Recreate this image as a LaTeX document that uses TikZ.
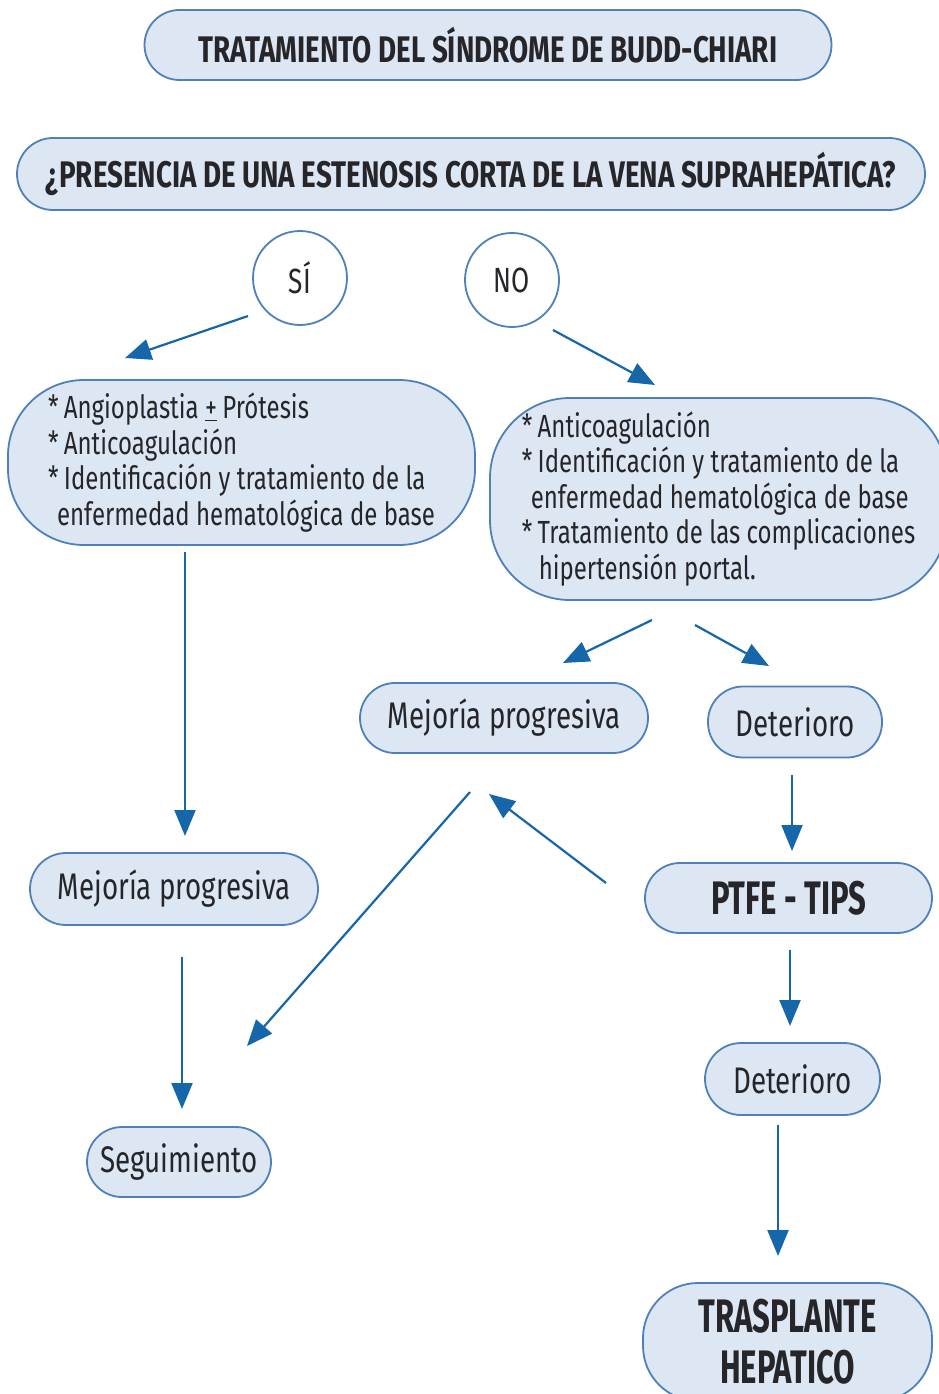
\documentclass[tikz,border=0pt]{standalone}
\usepackage{fontspec}
\setmainfont{Fira Sans}[FakeStretch=0.75]
\newfontfamily\condfont{Fira Sans}[FakeStretch=0.66]
\usetikzlibrary{arrows.meta}
\definecolor{boxfill}{RGB}{221,231,243}
\definecolor{boxline}{RGB}{78,128,186}
\definecolor{arrowc}{RGB}{22,102,170}
\definecolor{txt}{RGB}{38,38,42}
\begin{document}
\begin{tikzpicture}[x=1pt,y=-1pt,
  pill/.style={draw=boxline, line width=1.8pt, fill=boxfill, inner sep=0pt, text=txt, rounded corners=#1},
  head/.style={font=\fontsize{37}{40}\selectfont\bfseries},
  big/.style={font=\condfont\fontsize{47}{51}\selectfont\bfseries, align=center},
  small/.style={font=\fontsize{37}{40}\selectfont},
  body/.style={font=\fontsize{32}{35.5}\selectfont, align=left},
  ring/.style={circle, draw=boxline, line width=1.8pt, fill=white, minimum size=94pt, inner sep=0pt, text=txt, font=\fontsize{35}{38}\selectfont},
  arr/.style={draw=arrowc, line width=2.2pt, -{Triangle[length=26pt,width=21pt]}}
]
\useasboundingbox (0,0) rectangle (939,1394);
\clip (0,0) rectangle (939,1394);

% nodes
\node[pill=35pt, head, minimum width=687pt, minimum height=70pt] (title) at (488,45) {TRATAMIENTO DEL SÍNDROME DE BUDD-CHIARI};
\node[pill=36pt, head, minimum width=908pt, minimum height=72pt] (question) at (471,174) {¿PRESENCIA DE UNA ESTENOSIS CORTA DE LA VENA SUPRAHEPÁTICA?};

\node[ring] (si) at (300,278) {SÍ};
\node[ring] (no) at (512,280) {NO};

\node[pill=76pt, body, minimum width=467pt, minimum height=165pt] (boxL) at (241.5,462.5)
  {*\,Angioplastia \underline{+}\,Prótesis\\
   *\,Anticoagulación\\
   *\,Identificación y tratamiento de la\\
   \hspace{9pt}enfermedad hematológica de base};

\node[pill=80pt, body, minimum width=457pt, minimum height=202pt] (boxR) at (718.5,499)
  {*\,Anticoagulación\\
   *\,Identificación y tratamiento de la\\
   \hspace{9pt}enfermedad hematológica de base\\
   *\,Tratamiento de las complicaciones\\
   \hspace{17pt}hipertensión portal.};

\node[pill=35pt, small, minimum width=288pt, minimum height=70pt] (mejM) at (504,718) {Mejoría progresiva};
\node[pill=35pt, small, minimum width=174pt, minimum height=71pt] (det1) at (795,722) {Deterioro};
\node[pill=35pt, big, minimum width=287pt, minimum height=70pt] (ptfe) at (788.5,898) {PTFE - TIPS};
\node[pill=36pt, small, minimum width=175pt, minimum height=72pt] (det2) at (792.5,1079) {Deterioro};
\node[pill=55pt, big, minimum width=289pt, minimum height=118pt] (tras) at (787.5,1342) {TRASPLANTE\\HEPATICO};
\node[pill=36pt, small, minimum width=288pt, minimum height=72pt] (mejL) at (174,889) {Mejoría progresiva};
\node[pill=35pt, small, minimum width=184pt, minimum height=70pt] (seg) at (179,1162) {Seguimiento};

% connector end points
\coordinate (siS) at (248,316);   \coordinate (siE) at (125,358);
\coordinate (noS) at (553,330);   \coordinate (noE) at (655,385);
\coordinate (lS) at (185,552);    \coordinate (lE) at (185,836);
\coordinate (rmS) at (652,620);   \coordinate (rmE) at (563,663);
\coordinate (rdS) at (695,625);   \coordinate (rdE) at (769,666);
\coordinate (dpS) at (792,775);   \coordinate (dpE) at (792,851);
\coordinate (pmS) at (606,883);   \coordinate (pmE) at (489,794);
\coordinate (msS) at (470,792);   \coordinate (msE) at (247,1046);
\coordinate (lsS) at (182,957);   \coordinate (lsE) at (182,1109);
\coordinate (pdS) at (790,950);   \coordinate (pdE) at (790,1026);
\coordinate (dtS) at (778,1125);  \coordinate (dtE) at (778,1256);

% connectors
\draw[arr] (siS) -- (siE);
\draw[arr] (noS) -- (noE);
\draw[arr] (lS) -- (lE);
\draw[arr] (rmS) -- (rmE);
\draw[arr] (rdS) -- (rdE);
\draw[arr] (dpS) -- (dpE);
\draw[arr] (pmS) -- (pmE);
\draw[arr] (msS) -- (msE);
\draw[arr] (lsS) -- (lsE);
\draw[arr] (pdS) -- (pdE);
\draw[arr] (dtS) -- (dtE);
\end{tikzpicture}
\end{document}
